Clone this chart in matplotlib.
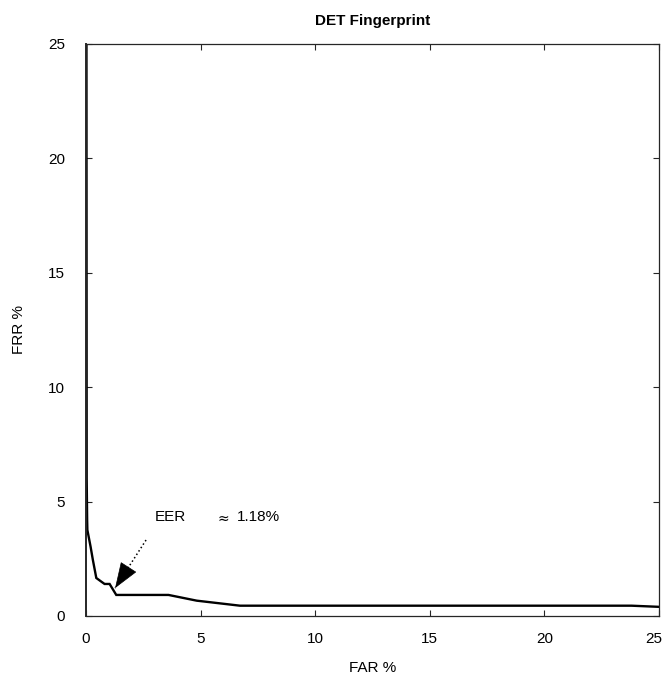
import matplotlib
matplotlib.use('Agg')
import matplotlib.pyplot as plt
from matplotlib.transforms import ScaledTranslation
import numpy as np

plt.rcParams['font.family'] = ['Liberation Sans', 'DejaVu Sans']

# curva DET (valores en %)
far = [0.02, 0.03, 0.05, 0.06, 0.20, 0.30, 0.45, 0.67, 0.81, 1.03, 1.32, 3.60, 4.83, 6.72, 23.80, 25.00]
frr = [27.0, 6.00, 4.20, 3.76, 3.03, 2.45, 1.66, 1.50, 1.40, 1.40, 0.92, 0.92, 0.67, 0.45, 0.45, 0.40]
eer = 1.18

ticks = [0, 5, 10, 15, 20, 25]
tick_labels = ['0', '5', '10', '15', '20', '25']

fig = plt.figure(figsize=(6.62, 6.79), dpi=100)
ax = fig.add_axes([0.1299, 0.0928, 0.8656, 0.8424])

ax.plot(far, frr, color='k', linewidth=1.7, solid_joinstyle='miter')

ax.set_xlim(0, 25)
ax.set_ylim(0, 25)
ax.set_xticks(ticks)
ax.set_xticklabels(tick_labels)
ax.set_yticks(ticks)
ax.set_yticklabels(tick_labels)
ax.tick_params(direction='in', top=True, right=True, length=4.3, width=0.8,
               color='#262626', labelsize=11)
ax.tick_params(axis='x', pad=11.5)
ax.tick_params(axis='y', pad=15)
for s in ax.spines.values():
    s.set_color('#262626')
    s.set_linewidth(0.9)
ax.spines['left'].set_linewidth(1.4)

# la ultima etiqueta del eje x se corre un poco para que quepa
ult = ax.get_xticklabels()[-1]
ult.set_transform(ult.get_transform() + ScaledTranslation(-5 / 100, 0, fig.dpi_scale_trans))

ax.set_title('DET Fingerprint', fontsize=11, fontweight='bold', pad=13.7)
ax.set_xlabel('FAR %', fontsize=11, labelpad=11)
ax.set_ylabel('FRR %', fontsize=11, labelpad=16)

# flecha hacia el punto EER: linea punteada + punta solida
punta = np.array([eer + 0.09, eer + 0.04])
cola = np.array([2.62, 3.32])
ax.plot([cola[0], punta[0]], [cola[1], punta[1]], color='k', linestyle=':',
        linewidth=1.1)
base = punta + 0.44 * (cola - punta)
ax.annotate('', xy=punta, xytext=base,
            arrowprops=dict(arrowstyle='-|>,head_length=0.85,head_width=0.31',
                            linewidth=0.5, fc='k', ec='k', mutation_scale=20,
                            shrinkA=0, shrinkB=0))
ax.text(3.01, 4.32, 'EER', fontsize=11, va='center', ha='left')
ax.text(5.76, 4.25, '≈', fontsize=10, va='center', ha='left',
        family=['DejaVu Sans'])
ax.text(6.59, 4.32, f'{eer:.2f}%', fontsize=11, va='center', ha='left')

fig.savefig('out.png', dpi=100)
